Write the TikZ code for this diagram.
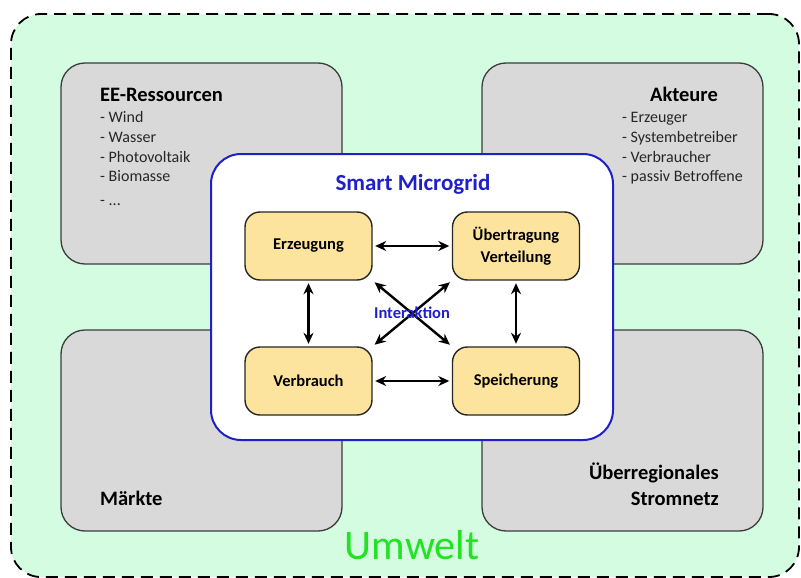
\documentclass[tikz,border=0pt]{standalone}
\usepackage{fontspec}
\setmainfont{Carlito}
\usetikzlibrary{arrows.meta}
\definecolor{bggreen}{RGB}{212,252,224}
\definecolor{boxgray}{RGB}{217,217,217}
\definecolor{boxyellow}{RGB}{253,228,158}
\definecolor{mgblue}{RGB}{32,32,200}
\definecolor{umgreen}{RGB}{34,226,34}
\definecolor{edgegray}{RGB}{60,60,60}
\tikzset{
  outerbox/.style={draw=black, fill=bggreen, line width=1.8pt, dash pattern=on 12pt off 7pt, rounded corners=30pt, minimum width=788pt, minimum height=563pt, inner sep=0pt},
  graybox/.style={draw=edgegray, fill=boxgray, line width=1.3pt, rounded corners=24pt, minimum width=281pt, minimum height=201pt, inner sep=0pt},
  mgbox/.style={draw=mgblue, fill=white, line width=2pt, rounded corners=30pt, minimum width=402pt, minimum height=286pt, inner sep=0pt},
  ybox/.style={draw=black!85, fill=boxyellow, line width=1.4pt, rounded corners=15pt, minimum width=127pt, minimum height=68pt, inner sep=0pt, align=center, font=\fontsize{16.5}{22}\selectfont\bfseries},
  gtitle/.style={inner sep=0pt, font=\fontsize{20.5}{24}\selectfont\bfseries},
  gitem/.style={inner sep=0pt, anchor=base west, font=\fontsize{16}{19}\selectfont, text=black!85},
  biarrow/.style={{Stealth[length=11pt,width=10pt]}-{Stealth[length=11pt,width=10pt]}, line width=2.4pt, shorten <=2.5pt, shorten >=2.5pt}
}
\begin{document}
\begin{tikzpicture}[x=1pt,y=-1pt]
\useasboundingbox (0,0) rectangle (801,578);
\node[outerbox] (outer) at (405,295.5) {};
% gray boxes
\node[graybox] (ee) at (201.5,163.5) {};
\node[graybox] (akt) at (622.5,163.5) {};
\node[graybox] (mkt) at (201.5,430.5) {};
\node[graybox] (netz) at (622.5,430.5) {};
% EE-Ressourcen
\node[gtitle, anchor=base west] (eet) at (100,101) {EE-Ressourcen};
\node[gitem] (ee1) at (100,122) {- Wind};
\node[gitem] (ee2) at (100,142) {- Wasser};
\node[gitem] (ee3) at (100,162) {- Photovoltaik};
\node[gitem] (ee4) at (100,181.5) {- Biomasse};
\node[gitem] (ee5) at (100,205) {- ...};
% Akteure
\node[gtitle, anchor=base] (aktt) at (684,101) {Akteure};
\node[gitem] (ak1) at (622,122) {- Erzeuger};
\node[gitem] (ak2) at (622,142) {- Systembetreiber};
\node[gitem] (ak3) at (622,162) {- Verbraucher};
\node[gitem] (ak4) at (622,181.5) {- passiv Betroffene};
% Maerkte
\node[gtitle, anchor=base west] (mktt) at (100,505) {Märkte};
% Stromnetz
\node[gtitle, anchor=base east] (netz1) at (719,479) {Überregionales};
\node[gtitle, anchor=base east] (netz2) at (719,505) {Stromnetz};
% Umwelt
\node[inner sep=0pt, anchor=base, text=umgreen, font=\fontsize{42}{46}\selectfont] (umw) at (412,559) {Umwelt};
% Smart Microgrid
\node[mgbox] (mg) at (412,297) {};
\node[inner sep=0pt, anchor=base, text=mgblue, font=\fontsize{23}{27}\selectfont\bfseries] (mgt) at (413,190) {Smart Microgrid};
\node[ybox] (erz) at (308.5,246) {Erzeugung};
\node[ybox] (uebt) at (516,246) {Übertragung\\Verteilung};
\node[ybox] (verb) at (308.5,381) {Verbrauch};
\node[ybox] (spei) at (516,381) {Speicherung};
\draw[biarrow] (erz.east) -- (uebt.west);
\draw[biarrow] (verb.east) -- (spei.west);
\draw[biarrow] (erz.south) -- (verb.north);
\draw[biarrow] (uebt.south) -- (spei.north);
\draw[biarrow] (erz.south east) -- (spei.north west);
\draw[biarrow] (uebt.south west) -- (verb.north east);
\node[inner sep=0pt, anchor=base, text=mgblue, font=\fontsize{16.5}{19}\selectfont\bfseries] (inter) at (412,318) {Interaktion};
\end{tikzpicture}
\end{document}
